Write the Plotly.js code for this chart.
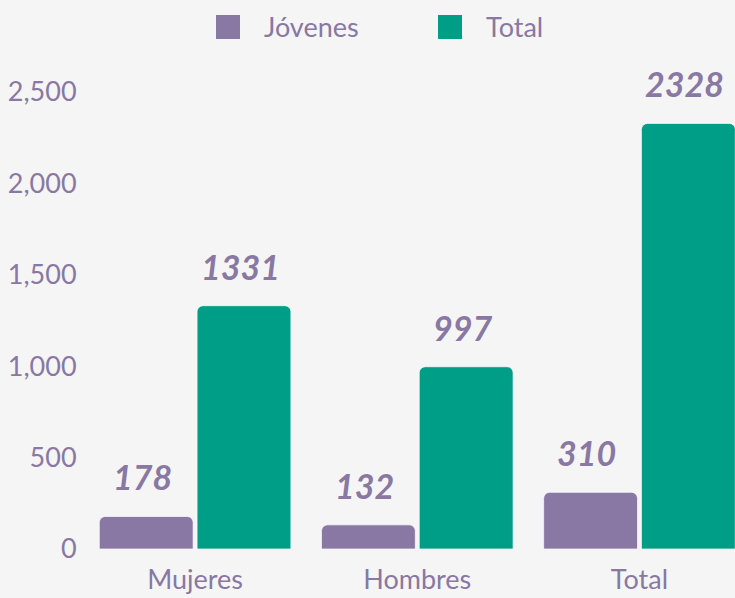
<!DOCTYPE html>
<html><head><meta charset="utf-8">
<script src="https://cdn.plot.ly/plotly-3.0.1.min.js"></script>
<style>body{margin:0;background:#f5f5f5}</style>
</head><body><div id="c" style="width:735px;height:598px"></div>
<script>
const categories = ["Mujeres", "Hombres", "Total"];
const jovenes = [178, 132, 310];
const total = [1331, 997, 2328];
const seriesNames = ["Jóvenes", "Total"];
const yTicks = [0, 500, 1000, 1500, 2000, 2500];
const yTickLabels = ["0", "500", "1,000", "1,500", "2,000", "2,500"];

const purple = "#8878a3";
const teal = "#009e87";
const colors = [purple, teal];
const font = "Lato, 'Open Sans', sans-serif";

const barCommon = {type: "bar", x: categories, showlegend: false, hoverinfo: "skip"};
const traces = [jovenes, total].map((arr, s) => Object.assign({}, barCommon, {
  y: arr, name: seriesNames[s],
  marker: {color: colors[s], cornerradius: 6, line: {color: "rgba(255,255,255,0.7)", width: 1}}
}));

const annotations = [];
[jovenes, total].forEach((arr, s) => {
  arr.forEach((v, i) => {
    annotations.push({
      x: categories[i], y: v, xref: "x", yref: "y",
      text: "<b><i>" + v + "</i></b>", showarrow: false,
      yanchor: "bottom", yshift: 17, xshift: (s === 0 ? -49 : 49) - 4,
      font: {family: font, size: 34, color: purple}
    });
  });
});

// custom legend (large square swatches)
const legendX = [216, 438];
const shapes = [];
seriesNames.forEach((n, s) => {
  shapes.push({type: "rect", xref: "paper", yref: "paper",
    x0: 0, x1: 0, y0: 0, y1: 0, fillcolor: colors[s], line: {width: 0}, _lx: legendX[s]});
  annotations.push({xref: "paper", yref: "paper", x: 0, y: 0, _lx: legendX[s] + 46,
    text: n, showarrow: false, xanchor: "left", yanchor: "middle",
    font: {family: font, size: 27, color: purple}});
});

const W = 735, H = 598, M = {l: 84, r: 0, t: 60, b: 49};
const pw = W - M.l - M.r, ph = H - M.t - M.b;
const px = x => (x - M.l) / pw, py = y => (H - M.b - y) / ph;
shapes.forEach(sh => { sh.x0 = px(sh._lx); sh.x1 = px(sh._lx + 24); sh.y0 = py(39); sh.y1 = py(15); delete sh._lx; });
annotations.forEach(a => { if (a._lx !== undefined) { a.x = px(a._lx); a.y = py(26); delete a._lx; } });

const layout = {
  width: W, height: H,
  paper_bgcolor: "#f5f5f5", plot_bgcolor: "#f5f5f5",
  margin: M,
  barmode: "group", bargap: 0.12, bargroupgap: 0.04,
  font: {family: font, color: purple, size: 27},
  showlegend: false,
  xaxis: {range: [-0.5, 2.43], showgrid: false, zeroline: false, showline: false, ticks: "outside", ticklen: 7, tickcolor: "rgba(0,0,0,0)", tickfont: {size: 27, color: purple}, fixedrange: true},
  yaxis: {range: [0, 2675], tickvals: yTicks, ticktext: yTickLabels, showgrid: false, zeroline: false, showline: false, ticks: "outside", ticklen: 1, tickcolor: "rgba(0,0,0,0)", tickfont: {size: 27, color: purple}},
  shapes: shapes,
  annotations: annotations
};
Plotly.newPlot("c", traces, layout, {displayModeBar: false, staticPlot: true});
</script></body></html>
